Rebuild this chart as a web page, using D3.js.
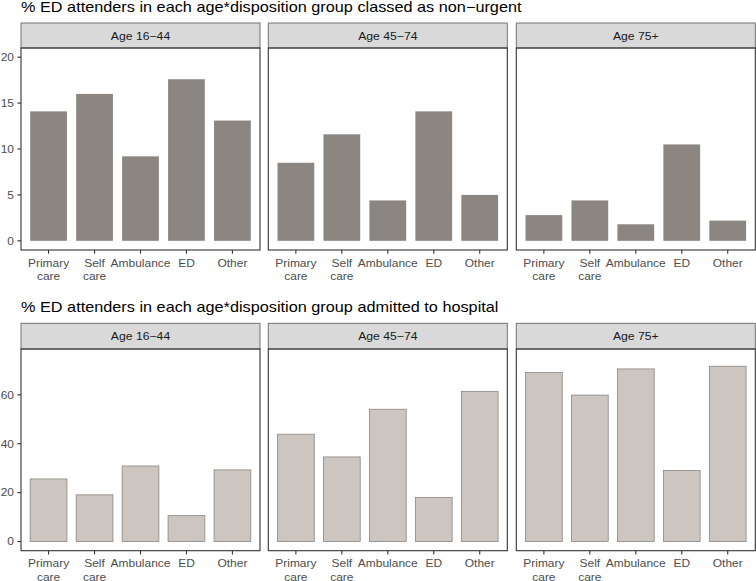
<!DOCTYPE html>
<html>
<head>
<meta charset="utf-8">
<script src="https://cdn.jsdelivr.net/npm/d3@7"></script>
<style>
  body { margin: 0; background: #fff; }
  svg { display: block; font-family: "Liberation Sans", Arial, sans-serif; }
</style>
</head>
<body>
<svg width="756" height="581"></svg>
<script>
// ---- data ----
const dispositions = ["Primary care", "Self care", "Ambulance", "ED", "Other"];
const ageGroups = ["Age 16\u221244", "Age 45\u221274", "Age 75+"];

// % classed as non-urgent, one array per age group
const nonUrgent16 = [14.1, 16.0, 9.2, 17.6, 13.1];
const nonUrgent45 = [8.5, 11.6, 4.4, 14.1, 5.0];
const nonUrgent75 = [2.8, 4.4, 1.8, 10.5, 2.2];

// % admitted to hospital
const admitted16 = [25.6, 19.1, 30.9, 10.6, 29.3];
const admitted45 = [43.9, 34.6, 54.1, 18.0, 61.4];
const admitted75 = [69.1, 59.9, 70.6, 29.1, 71.7];

const topTicks = [0, 5, 10, 15, 20];
const bottomTicks = [0, 20, 40, 60];

const svg = d3.select("svg");

// the original is slightly stretched sideways, so text gets a small x-scale
const SX = 1.13;

// panel x positions (3 facets)
const panelW = 239;
const panelX = [21, 268.3, 516.3];

function label(parent, x, y, txt, size, fill, anchor) {
  return parent.append("text")
    .attr("transform", `translate(${x},${y}) scale(${SX},1)`)
    .attr("text-anchor", anchor || "start")
    .attr("font-size", size + "px")
    .attr("fill", fill)
    .text(txt);
}

function drawRow(opt) {
  label(svg, 21, opt.titleY, opt.title, 14.4, "#000");

  const pad = 0.05 * (opt.lim[1] - opt.lim[0]);
  const y = d3.scaleLinear()
    .domain([opt.lim[0] - pad, opt.lim[1] + pad])
    .range([opt.panelBottom, opt.panelTop]);

  opt.series.forEach((vals, i) => {
    const x0 = panelX[i];
    const x = d3.scaleBand()
      .domain(dispositions)
      .range([x0, x0 + panelW])
      .paddingInner(0.2)
      .paddingOuter(0.2);

    const g = svg.append("g");

    // strip
    g.append("rect")
      .attr("x", x0).attr("y", opt.stripTop)
      .attr("width", panelW).attr("height", opt.panelTop - opt.stripTop)
      .attr("fill", "#D9D9D9")
      .attr("stroke", "#666").attr("stroke-width", 0.9);
    label(g, x0 + panelW / 2, opt.stripTop + 17, ageGroups[i], 10.8, "#1A1A1A", "middle");

    // bars
    g.selectAll("rect.bar")
      .data(vals)
      .enter().append("rect")
      .attr("class", "bar")
      .attr("x", (d, j) => x(dispositions[j]))
      .attr("width", x.bandwidth())
      .attr("y", d => y(d))
      .attr("height", d => y(0) - y(d))
      .attr("fill", opt.fill)
      .attr("stroke", opt.stroke)
      .attr("stroke-width", opt.stroke === "none" ? 0 : 0.8);

    // panel border
    g.append("rect")
      .attr("x", x0).attr("y", opt.panelTop)
      .attr("width", panelW).attr("height", opt.panelBottom - opt.panelTop)
      .attr("fill", "none")
      .attr("stroke", "#333").attr("stroke-width", 1.1);

    // x axis ticks + labels
    dispositions.forEach(d => {
      const cx = x(d) + x.bandwidth() / 2;
      g.append("line")
        .attr("x1", cx).attr("x2", cx)
        .attr("y1", opt.panelBottom).attr("y2", opt.panelBottom + 3.7)
        .attr("stroke", "#333").attr("stroke-width", 1.1);
      const parts = d === "Primary care" || d === "Self care" ? d.split(" ") : [d];
      parts.forEach((p, k) => {
        label(g, cx, opt.panelBottom + 16.7 + k * 13.3, p, 10.6, "#4D4D4D", "middle");
      });
    });

    // y axis only on first panel
    if (i === 0) {
      opt.ticks.forEach(t => {
        g.append("line")
          .attr("x1", x0 - 3.7).attr("x2", x0)
          .attr("y1", y(t)).attr("y2", y(t))
          .attr("stroke", "#333").attr("stroke-width", 1.1);
        label(g, x0 - 7, y(t) + 3.8, t, 10.6, "#4D4D4D", "end");
      });
    }
  });
}

drawRow({
  title: "% ED attenders in each age*disposition group classed as non\u2212urgent",
  titleY: 12,
  stripTop: 23,
  panelTop: 48,
  panelBottom: 250,
  lim: [0, 20],
  ticks: topTicks,
  series: [nonUrgent16, nonUrgent45, nonUrgent75],
  fill: "#8B8682",
  stroke: "none"
});

drawRow({
  title: "% ED attenders in each age*disposition group admitted to hospital",
  titleY: 312,
  stripTop: 323.3,
  panelTop: 349,
  panelBottom: 550.7,
  lim: [0, 75],
  ticks: bottomTicks,
  series: [admitted16, admitted45, admitted75],
  fill: "#CDC5BF",
  stroke: "#8B8682"
});
</script>
</body>
</html>
